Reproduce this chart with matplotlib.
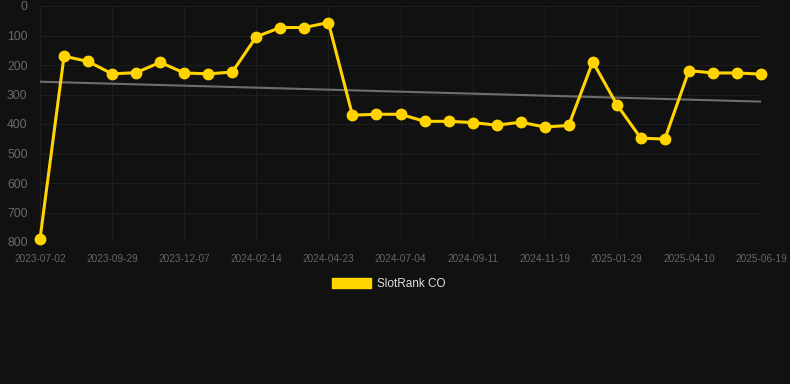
import numpy as np
import matplotlib.pyplot as plt
from matplotlib.patches import Patch

# Rank values (lower is better, axis inverted)
rank = [790, 170, 188, 230, 226, 191, 227, 230, 224, 104,
        73, 73, 56, 370, 367, 367, 391, 391, 395, 404,
        394, 410, 405, 189, 334, 448, 451, 219, 227, 227, 231]
tick_labels = ["2023-07-02", "2023-09-29", "2023-12-07", "2024-02-14",
               "2024-04-23", "2024-07-04", "2024-09-11", "2024-11-19",
               "2025-01-29", "2025-04-10", "2025-06-19"]
y_ticks = [0, 100, 200, 300, 400, 500, 600, 700, 800]

bg = "#111111"
gold = "#FFD400"

plt.rcParams["font.family"] = ["Liberation Sans", "DejaVu Sans"]

fig = plt.figure(figsize=(7.9, 3.84), dpi=100, facecolor=bg)
ax = fig.add_axes([40/790, 1 - 242/384, (761 - 40)/790, 236/384])
ax.set_facecolor(bg)

x = np.arange(len(rank))

# Trend line (linear fit)
coef = np.polyfit(x, rank, 1)
ax.plot(x, np.polyval(coef, x), color="#6e6e6e", linewidth=1.5, zorder=2)

ax.plot(
    x, rank,
    color=gold,
    linewidth=2.2,
    marker="o",
    markersize=7.5,
    markerfacecolor=gold,
    markeredgecolor=gold,
    zorder=3,
    clip_on=False
)

ax.set_xlim(0, len(rank) - 1)
ax.set_ylim(800, 0)
ax.set_xticks(x[::3])
ax.set_xticklabels(tick_labels)
ax.set_yticks(y_ticks)

ax.tick_params(axis="x", colors="#666666", labelsize=7.2, length=0, pad=9)
ax.tick_params(axis="y", colors="#6a6a6a", labelsize=8.8, length=0, pad=9)
ax.grid(True, color="#1e1e1e", linewidth=0.8)
for s in ax.spines.values():
    s.set_visible(False)

fig.legend(
    handles=[Patch(facecolor=gold, edgecolor=gold, label="SlotRank CO")],
    loc="center",
    bbox_to_anchor=(0.5 - 6/790, 1 - 284/384),
    frameon=False,
    labelcolor="#e0e0e0",
    fontsize=8.5,
    handlelength=3.3,
    handleheight=1.0,
    handletextpad=0.5
)

fig.savefig("out.png", dpi=100, facecolor=bg)
